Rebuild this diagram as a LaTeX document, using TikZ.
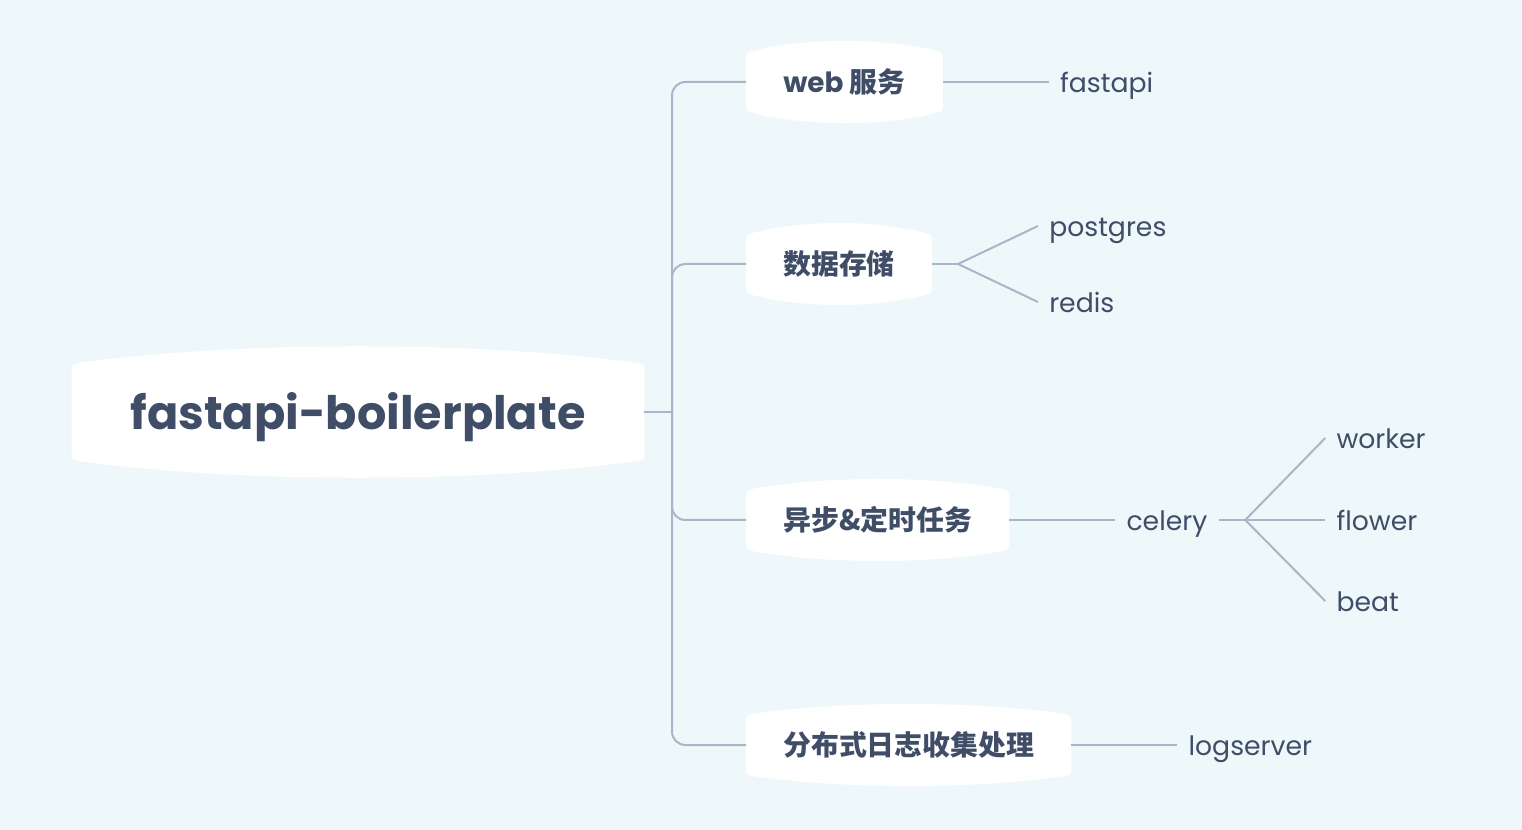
\documentclass[tikz,border=0pt]{standalone}
\usepackage{fontspec}
\setmainfont{Poppins}
\newfontfamily\cjk{Noto Sans CJK SC}
\usetikzlibrary{calc,positioning,backgrounds}

\definecolor{bgblue}{HTML}{EEF8FB}
\definecolor{ink}{HTML}{3F4D67}
\definecolor{branch}{HTML}{A8B7C7}

% white bubble behind a topic: node name, bulge of top and bottom
\newcommand\bubble[2]{%
  \fill[white] ($(#1.north west)+(0,8)$) .. controls (#1.north west) .. ($(#1.north west)+(8,-2)$)
    .. controls ($(#1.north west)!0.3!(#1.north east)+(0,-#2)$) and ($(#1.north west)!0.7!(#1.north east)+(0,-#2)$) .. ($(#1.north east)+(-8,-2)$)
    .. controls (#1.north east) .. ($(#1.north east)+(0,8)$)
    -- ($(#1.south east)+(0,-8)$) .. controls (#1.south east) .. ($(#1.south east)+(-8,2)$)
    .. controls ($(#1.south west)!0.7!(#1.south east)+(0,#2)$) and ($(#1.south west)!0.3!(#1.south east)+(0,#2)$) .. ($(#1.south west)+(8,2)$)
    .. controls (#1.south west) .. ($(#1.south west)+(0,-8)$) -- cycle;
}

\begin{document}
\begin{tikzpicture}[x=0.75pt, y=-0.75pt,
  rootbox/.style={text=ink, inner xsep=44pt, inner ysep=0pt, minimum height=70.5pt,
    text height=33pt, text depth=7.2pt, font=\fontsize{34.6}{40}\selectfont\bfseries},
  topic/.style={text=ink, inner xsep=27.75pt, inner ysep=0pt, minimum height=43.5pt,
    font=\fontsize{20.9}{25}\selectfont\cjk\bfseries},
  leaf/.style={text=ink, inner xsep=8.25pt, inner ysep=0pt, anchor=west,
    text height=20pt, text depth=3.6pt, font=\fontsize{20}{24}\selectfont},
  link/.style={draw=branch, line width=1.5pt}]

\useasboundingbox (0,0) rectangle (1522,830);

% main topic and the four branches
\node [rootbox] (root) at (358,412) {fastapi-boilerplate};
\coordinate (trunk) at (672,412);

\node [topic, anchor=west] (web) at (746,82) {{\fontspec{Poppins}\bfseries web} 服务};
\node [topic, anchor=west] (store) at (746,264) {数据存储};
\node [topic, anchor=west] (task) at (746,520) {异步\&定时任务};
\node [topic, anchor=west] (log) at (746,745) {分布式日志收集处理};

% leaves
\node [leaf, right=79.5pt of web] (fastapi) {fastapi};
\coordinate [right=19.5pt of store] (storefork);
\node [leaf] (postgres) at ($(storefork)+(80,-38)$) {postgres};
\node [leaf] (redis) at ($(storefork)+(80,38)$) {redis};
\node [leaf, right=79.5pt of task] (celery) {celery};
\coordinate [right=20pt of celery] (celeryfork);
\node [leaf] (worker) at ($(celeryfork)+(80,-82)$) {worker};
\node [leaf] (flower) at ($(celeryfork)+(80,0)$) {flower};
\node [leaf] (beat) at ($(celeryfork)+(80,81)$) {beat};
\node [leaf, right=79.5pt of log] (logserver) {logserver};

\begin{scope}[on background layer]
  \fill [bgblue] (0,0) rectangle (1522,830);
  \bubble{root}{24}
  \foreach \n in {web, store, task, log} {
    \bubble{\n}{15}
  }
\end{scope}

% connectors
\draw [link] (root.east) -- (trunk);
\foreach \n in {web, store, task, log}
  \draw [link, rounded corners=10pt] (trunk) |- (\n.west);

\draw [link] (web.east) -- (fastapi.west);
\draw [link] (store.east) -- (storefork);
\foreach \n in {postgres, redis}
  \draw [link] (storefork) -- (\n.west);
\draw [link] (task.east) -- (celery.west);
\draw [link] (celery.east) -- (celeryfork);
\foreach \n in {worker, flower, beat}
  \draw [link] (celeryfork) -- (\n.west);
\draw [link] (log.east) -- (logserver.west);

\end{tikzpicture}
\end{document}
